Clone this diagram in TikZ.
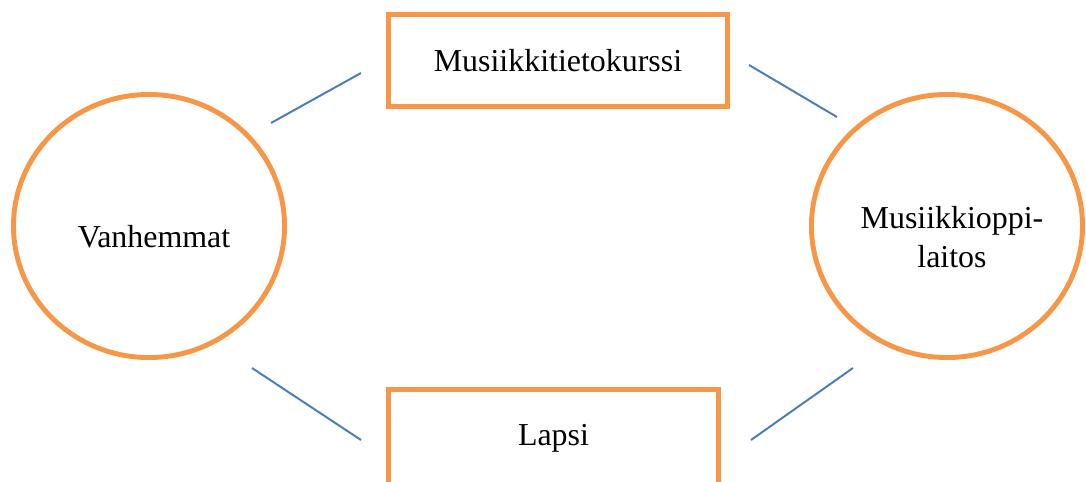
\documentclass[tikz,border=0pt]{standalone}
\usepackage{fontspec}
\setmainfont{Liberation Serif}
\usetikzlibrary{shapes.geometric}

\definecolor{accent}{HTML}{F79646}
\definecolor{linkblue}{HTML}{4A7EBB}

\tikzset{
  party/.style={draw=accent, line width=3.5pt, ellipse, inner sep=0pt,
    minimum width=6.775cm, minimum height=6.575cm},
  caption/.style={align=center, inner sep=0pt,
    font=\fontsize{22.7}{27.7}\selectfont},
  topic/.style={draw=accent, line width=3.5pt, rectangle, inner sep=0pt,
    font=\fontsize{22.7}{27.7}\selectfont},
  link/.style={draw=linkblue, line width=1.4pt}
}

\begin{document}
\begin{tikzpicture}[x=0.025cm, y=-0.025cm]

  \useasboundingbox (0,0) rectangle (1086,481);
  \clip (0,0) rectangle (1086,481);

  \node[party] (parents) at (149,226) {};
  \node[caption] (parentstext) at (154,237) {Vanhemmat};

  \node[party] (school) at (947,226) {};
  \node[caption] (schooltext) at (952,237.5) {Musiikkioppi-\\laitos};

  \node[topic, minimum width=8.475cm, minimum height=2.3cm] (course) at (558,60.5) {Musiikkitietokurssi};
  \node[topic, minimum width=8.25cm, minimum height=2.45cm] (child) at (553.5,438.5) {Lapsi};

  \coordinate (pc) at (271,123);
  \coordinate (cp) at (361,73);
  \coordinate (cs) at (749,65);
  \coordinate (sc) at (837,117);
  \coordinate (pk) at (252,368);
  \coordinate (kp) at (361,440);
  \coordinate (ks) at (751,440);
  \coordinate (sk) at (853,368);

  \draw[link] (pc) -- (cp);
  \draw[link] (cs) -- (sc);
  \draw[link] (pk) -- (kp);
  \draw[link] (ks) -- (sk);

\end{tikzpicture}
\end{document}
